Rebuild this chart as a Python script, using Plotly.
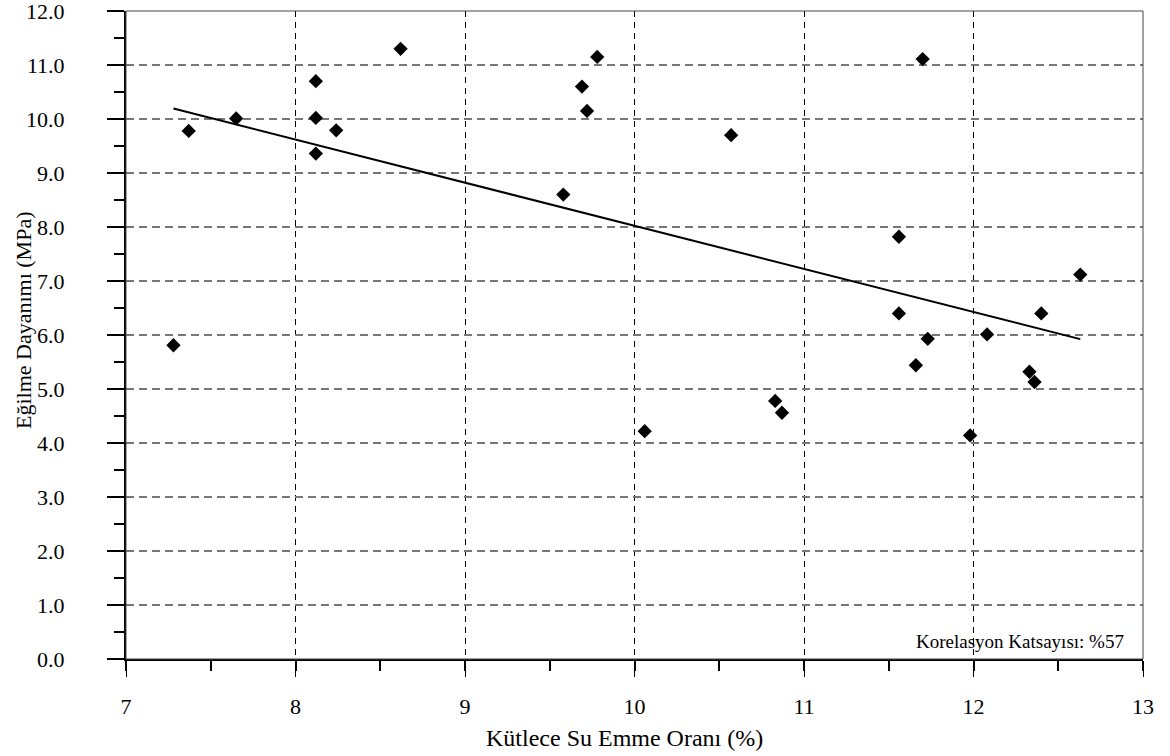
import numpy as np
import plotly.graph_objects as go

# Kütlece su emme oranı (%) ve eğilme dayanımı (MPa)
su_emme = [7.28, 7.37, 7.65, 8.12, 8.12, 8.24, 8.12, 8.62,
           9.78, 9.69, 9.72, 10.57, 9.58, 10.06, 10.83, 10.87,
           11.70, 11.56, 12.63, 11.56, 12.40, 11.73, 12.08, 11.66, 12.33, 12.36, 11.98]
dayanim = [5.81, 9.78, 10.01, 10.70, 10.02, 9.79, 9.36, 11.30,
           11.15, 10.60, 10.15, 9.70, 8.60, 4.22, 4.78, 4.56,
           11.11, 7.82, 7.12, 6.40, 6.40, 5.93, 6.01, 5.44, 5.32, 5.13, 4.14]

x_ticks = [7, 8, 9, 10, 11, 12, 13]
y_ticks = [i * 1.0 for i in range(13)]
y_tick_text = [f"{v:.1f}" for v in y_ticks]
annot_text = "Korelasyon Katsayısı: %57"

xa = np.array(su_emme)
ya = np.array(dayanim)
slope, intercept = np.polyfit(xa, ya, 1)
trend_x = [xa.min(), xa.max()]
trend_y = [slope * v + intercept for v in trend_x]

FONT = "Liberation Serif, Times New Roman, serif"

fig = go.Figure()
fig.add_trace(go.Scatter(x=trend_x, y=trend_y, mode="lines",
                         line=dict(color="black", width=2), showlegend=False))
fig.add_trace(go.Scatter(x=su_emme, y=dayanim, mode="markers",
                         marker=dict(symbol="diamond", size=11, color="black"),
                         showlegend=False))

fig.update_layout(
    width=1170, height=756,
    margin=dict(l=126, r=27, t=11, b=97),
    paper_bgcolor="white", plot_bgcolor="white",
    font=dict(family=FONT, size=22, color="black"),
    showlegend=False,
)

fig.update_xaxes(
    range=[7, 13], tickvals=x_ticks, ticktext=[str(v) for v in x_ticks],
    automargin=False,
    showline=True, linecolor="black", linewidth=2,
    ticks="outside", ticklen=16, tickwidth=1, tickcolor="black",
    ticklabelstandoff=11, ticklabeloverflow="allow",
    showgrid=True, gridcolor="black", gridwidth=1, griddash="6px,5px",
    zeroline=False,
    minor=dict(dtick=0.5, tick0=7, ticks="outside", ticklen=10, tickwidth=2,
               tickcolor="black", showgrid=False),
    tickfont=dict(family=FONT, size=22, color="black"),
)
fig.update_yaxes(
    range=[0, 12.0005], tickvals=y_ticks, ticktext=y_tick_text,
    automargin=False,
    showline=True, linecolor="black", linewidth=2,
    ticks="outside", ticklen=17, tickwidth=2, tickcolor="black",
    ticklabelstandoff=38, ticklabeloverflow="allow",
    showgrid=True, gridcolor="#777777", gridwidth=1.5, griddash="8px,5px",
    zeroline=False,
    minor=dict(dtick=0.5, tick0=0, ticks="outside", ticklen=10, tickwidth=2,
               tickcolor="black", showgrid=False),
    tickfont=dict(family=FONT, size=22, color="black"),
)

# frame (top and right edges)
fig.add_shape(type="rect", xref="paper", yref="paper", x0=0, x1=1, y0=0, y1=1,
              line=dict(color="#444444", width=1), layer="above")

fig.add_annotation(text=annot_text, xref="x", yref="y", x=12.9, y=0.33,
                   xanchor="right", yanchor="middle", showarrow=False,
                   font=dict(family=FONT, size=19, color="black"))
fig.add_annotation(text="Kütlece Su Emme Oranı (%)", xref="paper", yref="paper",
                   x=(624 - 126) / 1017, y=-(738 - 659) / 648,
                   xanchor="center", yanchor="middle", showarrow=False,
                   font=dict(family=FONT, size=24, color="black"))
fig.add_annotation(text="Eğilme Dayanımı (MPa)", xref="paper", yref="paper",
                   x=-(126 - 23) / 1017, y=(659 - 320) / 648, textangle=-90,
                   xanchor="center", yanchor="middle", showarrow=False,
                   font=dict(family=FONT, size=22, color="black"))

fig.write_html("out.html")
